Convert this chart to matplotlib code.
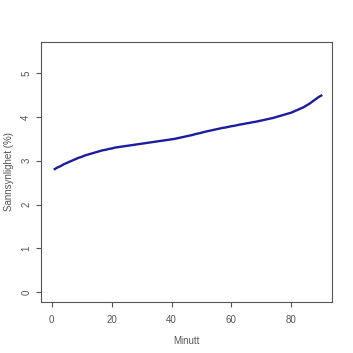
import matplotlib
matplotlib.use("Agg")
import matplotlib.pyplot as plt

# minute of match and probability (%)
minutes = list(range(1, 91))
prob = [
    2.81, 2.85, 2.88, 2.92, 2.95, 2.98, 3.01, 3.04, 3.07, 3.09,
    3.12, 3.14, 3.16, 3.18, 3.20, 3.22, 3.24, 3.25, 3.27, 3.28,
    3.30, 3.31, 3.32, 3.33, 3.34, 3.35, 3.36, 3.37, 3.38, 3.39,
    3.40, 3.41, 3.42, 3.43, 3.44, 3.45, 3.46, 3.47, 3.48, 3.49,
    3.50, 3.515, 3.53, 3.545, 3.56, 3.575, 3.59, 3.61, 3.625, 3.64,
    3.66, 3.675, 3.69, 3.705, 3.72, 3.735, 3.75, 3.76, 3.775, 3.79,
    3.80, 3.815, 3.83, 3.84, 3.855, 3.865, 3.88, 3.89, 3.905, 3.92,
    3.935, 3.95, 3.965, 3.98, 4.00, 4.02, 4.04, 4.06, 4.08, 4.10,
    4.13, 4.16, 4.19, 4.22, 4.26, 4.30, 4.35, 4.40, 4.45, 4.49,
]
x_ticks = [0, 20, 40, 60, 80]
y_ticks = [0, 1, 2, 3, 4, 5]

grey = "#555555"
plt.rcParams["font.family"] = ["Liberation Sans", "DejaVu Sans"]

fig = plt.figure(figsize=(3.53, 3.53), dpi=100)
ax = fig.add_axes([0.1161, 0.1453, 0.8244, 0.7365])

ax.plot(minutes, prob, color="#1c1ca0", linewidth=1.7)

ax.set_xlim(-3.6, 93.6)
ax.set_ylim(-0.22, 5.72)
ax.set_xticks(x_ticks)
ax.set_yticks(y_ticks)
ax.tick_params(axis="both", direction="out", length=3.5, width=0.8,
               color=grey, labelcolor=grey, labelsize=7)
ax.tick_params(axis="x", pad=6)
ax.tick_params(axis="y", pad=3.5)
for lbl in ax.get_yticklabels():
    lbl.set_rotation(90)
    lbl.set_va("center")
for sp in ax.spines.values():
    sp.set_color(grey)
    sp.set_linewidth(0.8)

ax.set_xlabel("Minutt", fontsize=7, color=grey, labelpad=8)
ax.set_ylabel("Sannsynlighet (%)", fontsize=7, color=grey, labelpad=5)

fig.savefig("out.png", dpi=100)
